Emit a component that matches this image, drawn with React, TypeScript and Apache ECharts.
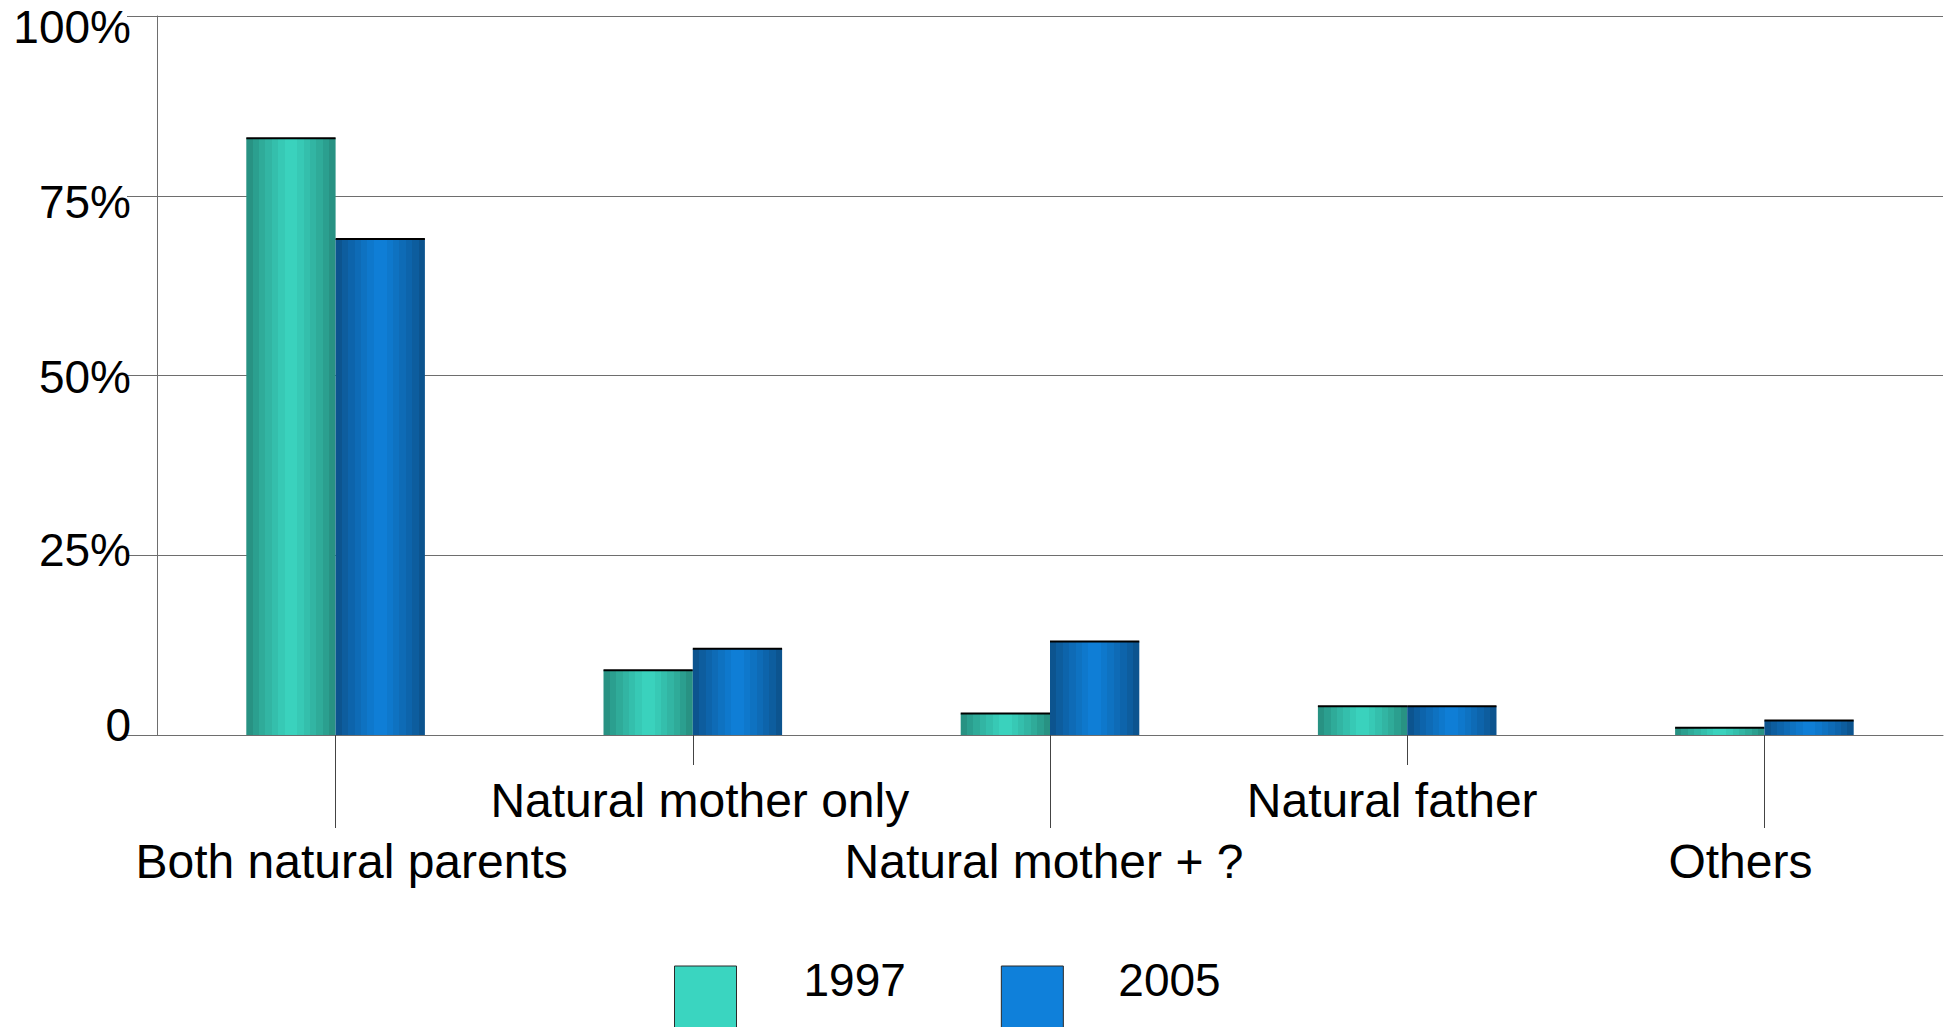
import React, { useEffect, useRef } from "react";
import * as echarts from "echarts";

const categories = [
  "Both natural parents",
  "Natural mother only",
  "Natural mother + ?",
  "Natural father",
  "Others",
];
const values1997 = [83, 9, 3, 4, 1];
const values2005 = [69, 12, 13, 4, 2];
const seriesNames = ["1997", "2005"];
const yTickValues = [0, 25, 50, 75, 100];

const FONT = "'Liberation Sans', Arial, sans-serif";
const AXIS_GRAY = "#6e6e6e";

function hexToRgb(h: string) {
  const n = parseInt(h.slice(1), 16);
  return [(n >> 16) & 255, (n >> 8) & 255, n & 255];
}
function mix(a: string, b: string, t: number) {
  const A = hexToRgb(a);
  const B = hexToRgb(b);
  const c = A.map((v, k) => Math.round(v + (B[k] - v) * t));
  return `rgb(${c[0]},${c[1]},${c[2]})`;
}
function bandStops(dark: string, light: string, n: number) {
  const stops: { offset: number; color: string }[] = [];
  for (let i = 0; i < n; i++) {
    const mid = (i + 0.5) / n;
    const t = 1 - Math.abs(mid * 2 - 1);
    const col = mix(dark, light, Math.pow(t, 0.8));
    stops.push({ offset: i / n, color: col });
    stops.push({ offset: (i + 1) / n, color: col });
  }
  return stops;
}

const stops1997 = bandStops("#25887a", "#3bd7c1", 14);
const stops2005 = bandStops("#0c4e85", "#0f81db", 14);

function makeRender(side: number, stops: any) {
  return (params: any, api: any) => {
    const i = api.value(0);
    const v = api.value(1);
    const base = api.coord([i, 0]);
    const top = api.coord([i, v]);
    const band = api.size([1, 0])[0];
    const w = band * 0.25;
    const x = side < 0 ? base[0] - w : base[0];
    return {
      type: "group",
      children: [
        {
          type: "rect",
          shape: { x, y: top[1], width: w, height: base[1] - top[1] },
          style: { fill: new echarts.graphic.LinearGradient(0, 0, 1, 0, stops) },
        },
        {
          type: "line",
          shape: { x1: x, y1: top[1], x2: x + w, y2: top[1] },
          style: { stroke: "#000", lineWidth: 2 },
        },
      ],
    };
  };
}

// per-label fine offsets [dx, dy]
const xLabelShift = [
  [16, 61],
  [7, 0],
  [-6, 61],
  [-15, 0],
  [-24, 61],
];
const yLabelShift: Record<number, number> = { 0: -10, 25: -5, 50: 1, 75: 6, 100: 11 };

export default function App() {
  const ref = useRef<HTMLDivElement>(null);
  useEffect(() => {
    if (!ref.current) return;
    const chart = echarts.init(ref.current, undefined, { renderer: "svg" });

    const xRich: any = {};
    xLabelShift.forEach(([dx, dy], i) => {
      xRich["x" + i] = {
        fontSize: 48,
        fontFamily: FONT,
        color: "#000",
        lineHeight: 48,
        padding: [2 * dy, dx < 0 ? -2 * dx : 0, 0, dx > 0 ? 2 * dx : 0],
      };
    });
    const yRich: any = {};
    yTickValues.forEach((v) => {
      const d = yLabelShift[v];
      yRich["y" + v] = {
        fontSize: 46,
        fontFamily: FONT,
        color: "#000",
        lineHeight: 46,
        padding: [d > 0 ? 2 * d : 0, 0, d < 0 ? -2 * d : 0, 0],
      };
    });

    chart.setOption({
      animation: false,
      backgroundColor: "#fff",
      grid: { left: 157, right: 10, top: 16, bottom: 292, containLabel: false, outerBoundsMode: "none" },
      legend: {
        left: 674,
        top: 957,
        padding: 0,
        itemGap: 95,
        itemWidth: 62,
        itemHeight: 90,
        icon: "rect",
        data: [
          { name: seriesNames[0], itemStyle: { color: "#3ad5c0", borderColor: "#2a2a2a", borderWidth: 1 } },
          { name: seriesNames[1], itemStyle: { color: "#0f80da", borderColor: "#2a2a2a", borderWidth: 1 } },
        ],
        formatter: (name: string) => (name === seriesNames[0] ? `{a|${name}}` : `{b|${name}}`),
        textStyle: {
          rich: {
            a: { fontSize: 46, fontFamily: FONT, color: "#000", lineHeight: 46, padding: [0, 0, 62, 62] },
            b: { fontSize: 46, fontFamily: FONT, color: "#000", lineHeight: 46, padding: [0, 0, 62, 50] },
          },
        },
        selectedMode: false,
      },
      xAxis: [
        {
          type: "category",
          data: categories,
          position: "bottom",
          boundaryGap: true,
          axisLine: { show: true, lineStyle: { color: AXIS_GRAY, width: 1 } },
          axisTick: {
            show: true,
            alignWithLabel: true,
            length: 30,
            interval: (index: number) => index % 2 === 1,
            lineStyle: { color: "#444", width: 1 },
          },
          axisLabel: {
            interval: 0,
            margin: 41,
            formatter: (v: string, i: number) => `{x${i}|${v}}`,
            rich: xRich,
          },
          splitLine: { show: false },
        },
        {
          type: "category",
          data: categories,
          position: "bottom",
          offset: 0,
          boundaryGap: true,
          axisLine: { show: false },
          axisTick: {
            show: true,
            alignWithLabel: true,
            length: 93,
            interval: (index: number) => index % 2 === 0,
            lineStyle: { color: "#444", width: 1 },
          },
          axisLabel: { show: false },
          splitLine: { show: false },
        },
      ],
      yAxis: {
        type: "value",
        min: 0,
        max: 100,
        interval: 25,
        axisLine: { show: true, lineStyle: { color: AXIS_GRAY, width: 1 } },
        axisTick: { show: true, length: 30, lineStyle: { color: AXIS_GRAY, width: 1 } },
        splitLine: { show: true, lineStyle: { color: AXIS_GRAY, width: 1 } },
        axisLabel: {
          margin: 26,
          formatter: (v: number) => `{y${v}|${v === 0 ? "0" : v + "%"}}`,
          rich: yRich,
        },
      },
      series: [
        {
          name: seriesNames[0],
          type: "custom",
          xAxisIndex: 0,
          itemStyle: { color: "#3ad5c0" },
          encode: { x: 0, y: 1 },
          data: values1997.map((v, i) => [i, v]),
          renderItem: makeRender(-1, stops1997),
        },
        {
          name: seriesNames[1],
          type: "custom",
          xAxisIndex: 0,
          itemStyle: { color: "#0f80da" },
          encode: { x: 0, y: 1 },
          data: values2005.map((v, i) => [i, v]),
          renderItem: makeRender(1, stops2005),
        },
      ],
    });
    return () => chart.dispose();
  }, []);
  return (
    <div
      ref={ref}
      style={{ position: "absolute", left: 0, top: 0, width: 1953, height: 1027 }}
    />
  );
}
